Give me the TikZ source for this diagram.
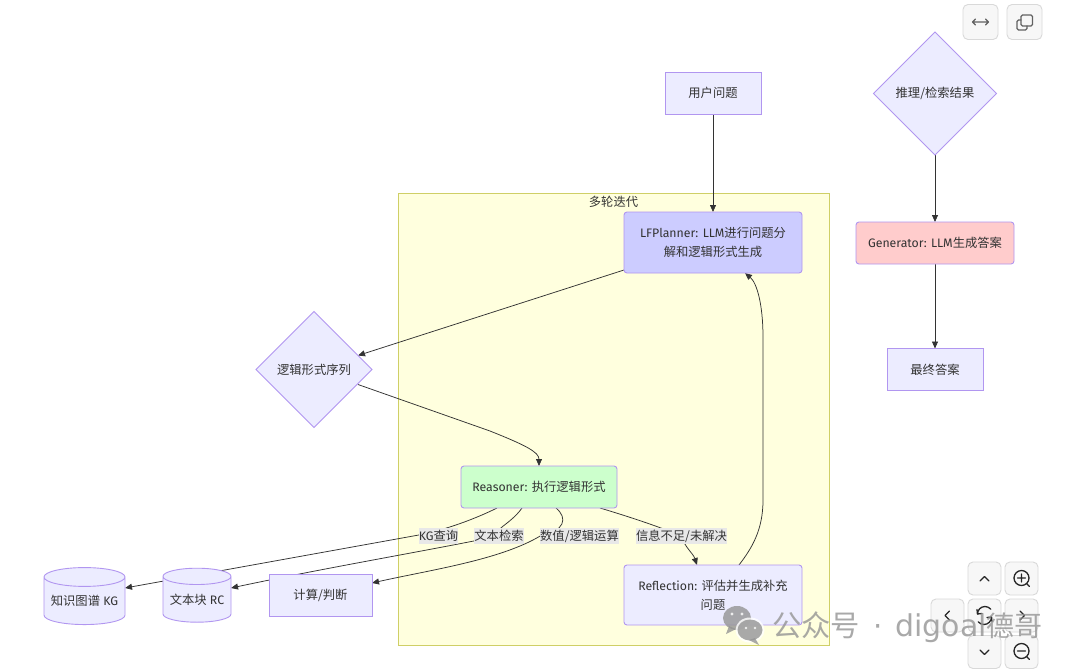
\documentclass[tikz,border=0pt]{standalone}
\usepackage{fontspec}
\setmainfont{Fira Sans}
\newfontfamily\cj{Noto Sans CJK SC}
\usetikzlibrary{shapes.geometric,arrows.meta,calc}
\pgfdeclarelayer{bg}\pgfdeclarelayer{edge}\pgfsetlayers{bg,edge,main}
\definecolor{nodefill}{HTML}{ECECFF}
\definecolor{nodeline}{HTML}{B196F0}
\definecolor{linkc}{HTML}{333333}
\definecolor{textc}{HTML}{333333}
\definecolor{sgfill}{HTML}{FFFFDE}
\definecolor{sgline}{HTML}{CFCF66}
\tikzset{
 base/.style={font=\fontsize{12.3}{19}\selectfont,text=textc,align=center,inner sep=0pt,outer sep=0pt,line width=.9pt,draw=nodeline,fill=nodefill},
 box/.style 2 args={base,rectangle,minimum width=#1,minimum height=#2},
 rbox/.style 2 args={base,rectangle,rounded corners=3pt,minimum width=#1,minimum height=#2},
 dia/.style={base,diamond,minimum width=#1,minimum height=#1},
 cyl/.style n args={3}{base,cylinder,shape border rotate=90,aspect=#3,minimum width=#1,minimum height=#2},
 lab/.style={font=\fontsize{12.3}{14}\selectfont,text=textc,fill=black!9!white,inner xsep=0pt,inner ysep=0pt,minimum height=16,outer sep=0pt},
 lnk/.style={draw=linkc,line width=.75pt,-{Triangle[length=7pt,width=6pt]}},
 btn/.style={rounded corners=5pt,fill=black!3!white,draw=black!15!white,line width=.9pt,minimum width=#1,minimum height=#1,inner sep=0pt},
 ico/.style={draw=black!85!white,line width=1.3pt,line cap=round,line join=round},
 ico2/.style={draw=black!62!white,line width=1.3pt,line cap=round,line join=round},
}
\begin{document}
\begin{tikzpicture}[x=1pt,y=-1pt]
\useasboundingbox (0,0) rectangle (1080,670);
\begin{pgfonlayer}{bg}
\fill[white] (0,0) rectangle (1080,670);
\node[draw=sgline,fill=sgfill,line width=.9pt,minimum width=431,minimum height=452,inner sep=0pt] (sg) at (613.5,419) {};
\end{pgfonlayer}
\node[font=\fontsize{12.3}{14}\selectfont,text=textc,inner sep=0pt] (sgt) at (613.5,202) {\cj 多轮迭代};
% nodes
\node[box={96}{42}] (q) at (713,93) {\cj 用户问题};
\node[rbox={178}{61},fill=blue!20!white] (lf) at (713,242.5) {LFPlanner: LLM{\cj 进行问题分}\\{\cj 解和逻辑形式生成}};
\node[dia=116] (seq) at (314,369.5) {\cj 逻辑形式序列};
\node[rbox={156}{42},fill=green!20!white] (re) at (539,487) {Reasoner: {\cj 执行逻辑形式}};
\node[rbox={178}{60}] (rf) at (713,595) {Reflection: {\cj 评估并生成补充}\\{\cj 问题}};
\node[cyl={81}{57}{.28}] (kg) at (84.5,601) {{\cj 知识图谱} KG};
\node[cyl={68}{54}{.3}] (rc) at (197,599.5) {{\cj 文本块} RC};
\node[box={103}{42}] (calc) at (320.5,595) {\cj 计算/判断};
\node[dia=123] (res) at (935,93.5) {\cj 推理/检索结果};
\node[rbox={158}{42},fill=red!20!white] (gen) at (935,243) {Generator: LLM{\cj 生成答案}};
\node[box={96}{42}] (fin) at (935,369.5) {\cj 最终答案};
% edge labels
\node[lab] (l1) at (438.5,536) {KG{\cj 查询}};
\node[lab] (l2) at (499,536) {\cj 文本检索};
\node[lab] (l3) at (579.5,536) {\cj 数值/逻辑运算};
\node[lab] (l4) at (681.5,536) {\cj 信息不足/未解决};
% edges
\begin{pgfonlayer}{edge}
\draw[lnk] (q.south) -- (lf.north);
\draw[lnk] ($(lf.south west)+(0,-3)$) -- ($(seq.center)+(44,-14)$);
\draw[lnk] ($(seq.center)+(44,15)$) -- (490,431) .. controls (525,445) and (539,452) .. (re.north);
\draw[lnk] ($(re.south west)+(36,0)$) .. controls (475,519) and (445,530) .. ($(l1.west)+(0,-1)$) -- ($(kg.east)+(0,-13)$);
\draw[lnk] ($(re.south west)+(61,0)$) .. controls (510,525) and (490,531) .. (l2.center) .. controls (420,552) and (330,567) .. ($(rc.east)+(0,-11.5)$);
\draw[lnk] ($(re.south west)+(95,0)$) .. controls (568,518) and (565,531) .. (l3.west) .. controls (500,560) and (430,570) .. ($(calc.east)+(0,-12)$);
\draw[lnk] ($(re.south east)+(-17,0)$) .. controls (630,517) and (660,527) .. (l4.center) .. controls (685,548) and (693,553) .. ($(rf.north)+(-16,0)$);
\draw[lnk] ($(rf.north)+(26,0)$) .. controls (752,548) and (763,530) .. (763,500) -- (763,337) .. controls (763,305) and (757,283) .. ($(lf.south)+(32,0)$);
\draw[lnk] (res.south) -- (gen.north);
\draw[lnk] (gen.south) -- (fin.north);
\end{pgfonlayer}
% toolbar buttons
\node[btn=35] (b1) at (980.5,22) {};
\node[btn=35] (b2) at (1024.5,22) {};
\draw[ico2] (972.5,22) -- (988.5,22) (975.5,19) -- (972.5,22) -- (975.5,25) (985.5,19) -- (988.5,22) -- (985.5,25);
\draw[ico2,rounded corners=1.5pt] (1021,15) rectangle (1032.5,26);
\draw[ico2,rounded corners=1.5pt] (1021,20) -- (1017,20) -- (1017,30) -- (1027,30) -- (1027,26);
% zoom/pan buttons
\node[btn=33] (b3) at (984.5,578.5) {};
\node[btn=33] (b4) at (1021.5,578.5) {};
\node[btn=33] (b5) at (947.5,615.5) {};
\node[btn=33] (b6) at (984.5,615.5) {};
\node[btn=33] (b7) at (1021.5,615.5) {};
\node[btn=33] (b8) at (984.5,652) {};
\node[btn=33] (b9) at (1021.5,652) {};
\draw[ico] (980,581) -- (984.5,576.5) -- (989,581);
\draw[ico] (949.5,611) -- (945,615.5) -- (949.5,620);
\draw[ico] (1020,611) -- (1024.5,615.5) -- (1020,620);
\draw[ico] (980,650) -- (984.5,654.5) -- (989,650);
\draw[ico] (1021.5,578) circle (7.5) (1027,584) -- (1029.5,586.5) (1017.5,578) -- (1025.5,578) (1021.5,574) -- (1021.5,582);
\draw[ico] (1021.5,651) circle (7.5) (1027,657) -- (1029.5,659.5) (1017.5,651) -- (1025.5,651);
\draw[ico] (977.5,614) arc (180:320:7.5) (991.5,617) arc (0:140:7.5);
\draw[ico] (977,609.5) -- (977.5,614) -- (982,613.5) (992,621.5) -- (991.5,617) -- (987,617.5);
% watermark
\begin{scope}[opacity=.8]
\fill[black!42!white] (737,618) ellipse (14 and 12);
\fill[black!42!white] (729,626) -- (726,634) -- (736,629) -- cycle;
\fill[white] (750,630) ellipse (14.5 and 12.5);
\fill[black!42!white] (750,630) ellipse (12.5 and 10.5);
\fill[black!42!white] (755,638) -- (759,645) -- (749,640) -- cycle;
\fill[white] (732,614) circle (1.7) (742,614) circle (1.7) (746,628) circle (1.4) (755,628) circle (1.4);
\node[font=\fontsize{29.3}{30}\selectfont,text=black!42!white,inner sep=0pt,anchor=west] (wm) at (772,627) {{\cj 公众号}\hspace{13pt}{\fontspec{DejaVu Sans}·}\hspace{13pt}{\fontspec{DejaVu Sans}\fontsize{30}{30}\selectfont digoal}{\cj\fontsize{28}{30}\selectfont 德哥}};
\end{scope}
\end{tikzpicture}
\end{document}
